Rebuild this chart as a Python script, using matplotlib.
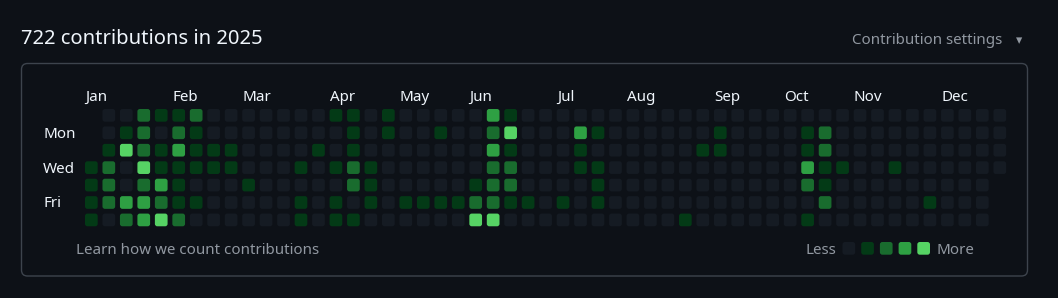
import matplotlib.pyplot as plt
from matplotlib.patches import FancyBboxPatch

plt.rcParams['font.family'] = ['Noto Sans', 'DejaVu Sans']

# contribution levels, one string per week (Sun..Sat), "." = day outside 2025
weeks = [
    "...1111", "0012220", "0140032", "2224233", "1011324", "1231112",
    "2111010", "0011000", "0011000", "0000100", "0000000", "0000000",
    "0001011", "0010000", "1001011", "1112201", "0001110", "1100000",
    "0000010", "0000010", "0100010", "0000010", "0000124", "3232224",
    "1412210", "0000010", "0000000", "0000010", "0311000", "0101110",
    "0000000", "0000000", "0000000", "0000000", "0000001", "0010000",
    "0110000", "0000000", "0000000", "0000000", "0000000", "0113201",
    "0221120", "0001000", "0000000", "0000000", "0001000", "0000000",
    "0000010", "0000000", "0000000", "0000000", "0000...",
]
months = ["Jan", "Feb", "Mar", "Apr", "May", "Jun",
          "Jul", "Aug", "Sep", "Oct", "Nov", "Dec"]
month_weeks = [0, 5, 9, 14, 18, 22, 27, 31, 36, 40, 44, 49]
day_names = ["Mon", "Wed", "Fri"]
day_rows = [1, 3, 5]
levels = [0, 1, 2, 3, 4]
palette = ["#151b23", "#033a16", "#196c2e", "#2ea043", "#56d364"]

bg = "#0d1117"
fg = "#f0f6fc"
muted = "#9198a1"

W, H = 1058, 298
fig = plt.figure(figsize=(W / 100, H / 100), dpi=100, facecolor=bg)

# page axes in pixel units
page = fig.add_axes([0, 0, 1, 1])
page.set_xlim(0, W)
page.set_ylim(H, 0)
page.axis('off')
page.set_facecolor(bg)

page.text(21, 39, "722 contributions in 2025", color=fg, fontsize=14.5,
          va='center', ha='left')
page.text(1002, 41, "Contribution settings", color=muted, fontsize=10.9,
          va='center', ha='right')
page.text(1019, 41, "\u25be", color=muted, fontsize=9, va='center', ha='center',
          family=['DejaVu Sans'])

frame = FancyBboxPatch((21.5, 63.5), 1006, 212.5, boxstyle="round,pad=0,rounding_size=6",
                       facecolor=bg, edgecolor="#3d444d", linewidth=1)
page.add_patch(frame)

page.text(76, 250.5, "Learn how we count contributions", color=muted, fontsize=10.9,
          va='center', ha='left')
page.text(836, 250.5, "Less", color=muted, fontsize=10.9, va='center', ha='right')
page.text(937, 250.5, "More", color=muted, fontsize=10.9, va='center', ha='left')
for i, lv in enumerate(levels):
    page.add_patch(FancyBboxPatch((842.5 + i * 18.7, 242), 12.7, 12.7,
                                  boxstyle="round,pad=0,rounding_size=2.5",
                                  facecolor=palette[lv], edgecolor='none'))

# calendar grid axes: x = week index, y = weekday
pw, ph = 17.47, 17.43
gx0, gy0 = 85, 109
ax = fig.add_axes([gx0 / W, 1 - (gy0 + 7 * ph) / H, len(weeks) * pw / W, 7 * ph / H])
ax.set_xlim(0, len(weeks))
ax.set_ylim(7, 0)
ax.axis('off')

cw, chh = 12.7 / pw, 12.7 / ph
for w, col in enumerate(weeks):
    for d, ch in enumerate(col):
        if ch == ".":
            continue
        ax.add_patch(FancyBboxPatch((w, d), cw, chh,
                                    boxstyle="round,pad=0,rounding_size=0.14",
                                    facecolor=palette[int(ch)], edgecolor='none'))

for m, wk in zip(months, month_weeks):
    ax.text(wk, -0.66, m, color=fg, fontsize=10.9, va='center', ha='left', clip_on=False)
for name, r in zip(day_names, day_rows):
    ax.text(-2.4, r + 0.45, name, color=fg, fontsize=10.9, va='center', ha='left',
            clip_on=False)

fig.savefig("out.png", dpi=100, facecolor=bg)
